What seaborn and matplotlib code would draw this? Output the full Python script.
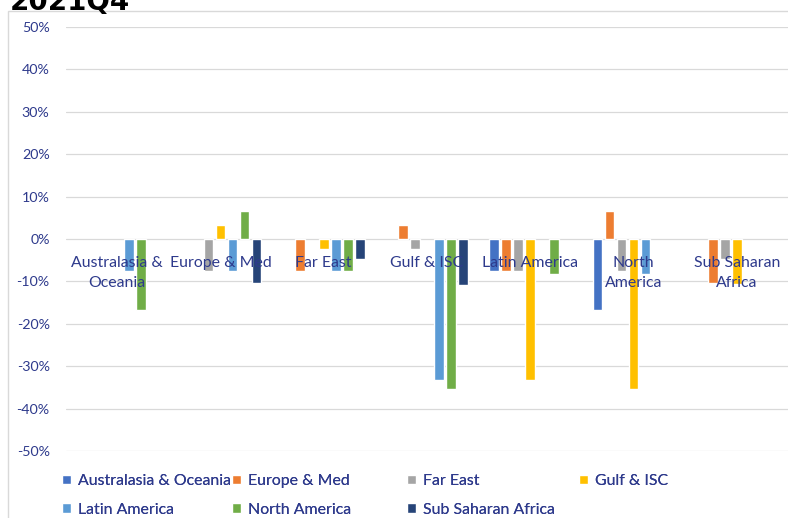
import numpy as np
import pandas as pd
import seaborn as sns
import matplotlib.pyplot as plt
from matplotlib.patches import Rectangle
from matplotlib.ticker import FuncFormatter

# Origin regions (x categories) and destination regions (series)
origins = ["Australasia & Oceania", "Europe & Med", "Far East", "Gulf & ISC",
           "Latin America", "North America", "Sub Saharan Africa"]
origin_labels = ["Australasia &\nOceania", "Europe & Med", "Far East", "Gulf & ISC",
                 "Latin America", "North\nAmerica", "Sub Saharan\nAfrica"]
destinations = ["Australasia & Oceania", "Europe & Med", "Far East", "Gulf & ISC",
                "Latin America", "North America", "Sub Saharan Africa"]

nan = np.nan
# Percentage change per origin, one value per destination
australasia = [nan, nan, nan, nan, -7.5, -16.7, nan]
europe_med = [nan, nan, -7.5, 3.3, -7.5, 6.7, -10.3]
far_east = [nan, -7.5, nan, -2.4, -7.5, -7.5, -4.8]
gulf_isc = [nan, 3.3, -2.4, nan, -33.3, -35.3, -10.8]
latin_america = [-7.5, -7.5, -7.5, -33.3, nan, -8.3, nan]
north_america = [-16.7, 6.7, -7.5, -35.3, -8.3, nan, nan]
sub_saharan = [nan, -10.3, -4.6, -10.5, nan, nan, nan]

yticks = list(range(-50, 51, 10))
title = "2021Q4"

colors = ["#4472C4", "#ED7D31", "#A5A5A5", "#FFC000", "#5B9BD5", "#70AD47", "#264478"]
text_color = "#2E3A8C"
grid_color = "#D9D9D9"

rows = []
for origin, vals in zip(origins, [australasia, europe_med, far_east, gulf_isc,
                                  latin_america, north_america, sub_saharan]):
    for dest, v in zip(destinations, vals):
        if not np.isnan(v):
            rows.append({"origin": origin, "destination": dest, "change": v})
df = pd.DataFrame(rows)

sns.set_theme(style="white")
plt.rcParams["font.family"] = ["Lato", "DejaVu Sans"]

fig = plt.figure(figsize=(7.88, 5.18), dpi=100)
ax = fig.add_axes([65.6 / 788, 1 - 451 / 518, 722.8 / 788, 424 / 518])

sns.barplot(data=df, x="origin", y="change", hue="destination",
            order=origins, hue_order=destinations, palette=colors, saturation=1,
            width=0.8135, gap=0.2, errorbar=None, ax=ax, zorder=2)

ax.set_ylim(-50, 50)
ax.set_xlim(-0.5, len(origins) - 0.5)
ax.set_yticks(yticks)
ax.yaxis.set_major_formatter(FuncFormatter(lambda v, _: f"{v:.0f}%"))
ax.tick_params(axis="y", length=0, pad=11.5, labelsize=10.3, labelcolor=text_color)
ax.set_xticks([])
ax.set_xlabel("")
ax.set_ylabel("")
for s in ax.spines.values():
    s.set_visible(False)
ax.set_axisbelow(True)
ax.grid(axis="y", color=grid_color, lw=0.9)
ax.grid(axis="x", visible=False)

# Category names sit just under the zero line, on top of the bars
for i, lab in enumerate(origin_labels):
    ax.annotate(lab, xy=(i, 0), xytext=(0, -12), textcoords="offset points",
                ha="center", va="top", fontsize=11.4, color=text_color,
                linespacing=1.62, zorder=5)

# Legend laid out in four evenly spaced columns
handles, labels = ax.get_legend_handles_labels()
ax.get_legend().remove()
col_x = [62, 232, 407, 579]
for c, x in enumerate(col_x):
    idx = [k for k in (c, c + 4) if k < len(handles)]
    leg = fig.legend([handles[k] for k in idx], [labels[k] for k in idx],
                     loc="upper left", bbox_to_anchor=(x / 788, 1 - 474 / 518),
                     frameon=False, fontsize=11.4, labelcolor=text_color,
                     handlelength=0.55, handleheight=0.55, handletextpad=0.45,
                     labelspacing=0.92, borderpad=0, borderaxespad=0)
    fig.add_artist(leg)

# Chart frame
fig.add_artist(Rectangle((8 / 788, -0.05), 1.2, 1.05 - 11 / 518, fill=False,
                         edgecolor=grid_color, lw=1, transform=fig.transFigure))

fig.text(10 / 788, 1 - 10 / 518, title, fontsize=20, fontweight="bold",
         color="black", va="baseline", ha="left", family="DejaVu Sans")

fig.savefig("out.png", dpi=100)
